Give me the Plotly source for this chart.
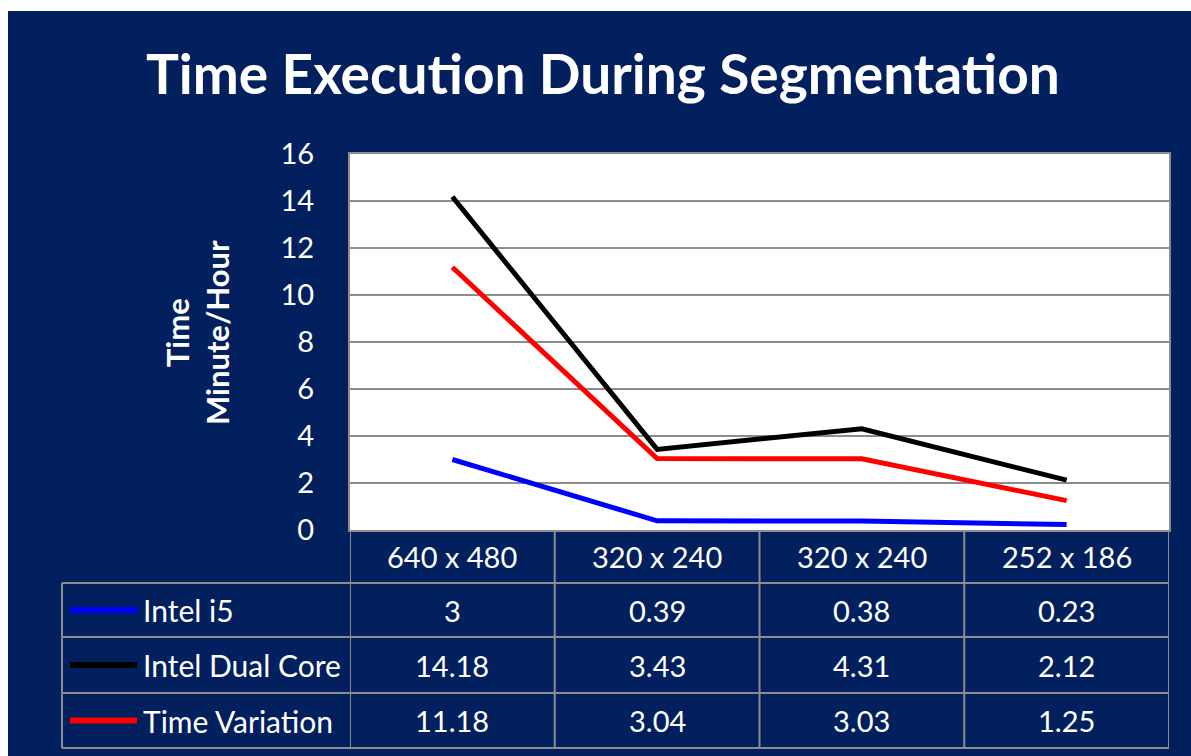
import plotly.graph_objects as go

# ---------------- data ----------------
categories = ["640 x 480", "320 x 240", "320 x 240", "252 x 186"]
series_names = ["Intel i5", "Intel Dual Core", "Time Variation"]
intel_i5 = [3, 0.39, 0.38, 0.23]
intel_dual_core = [14.18, 3.43, 4.31, 2.12]
time_variation = [11.18, 3.04, 3.03, 1.25]
y_ticks = [0, 2, 4, 6, 8, 10, 12, 14, 16]

series_values = [intel_i5, intel_dual_core, time_variation]
series_colors = ["#0000ff", "#000000", "#ff0000"]

# ---------------- layout geometry ----------------
W, H = 1191, 756
L, R, T, B = 350, 22, 154, 226
PW = W - L - R
PH = H - T - B
NAVY = "#021f5e"
GRID = "#8c8c8c"
FONT = "Lato"


def pxx(xpix):
    return (xpix - L) / PW


def pxy(ypix):
    return (H - B - ypix) / PH


x_idx = list(range(len(categories)))

fig = go.Figure()
for name, vals, col in zip(series_names, series_values, series_colors):
    fig.add_trace(go.Scatter(x=x_idx, y=vals, mode="lines", name=name,
                             line=dict(color=col, width=5), showlegend=False))

shapes = []
annotations = []

# white outer strips (top and left)
shapes.append(dict(type="rect", xref="paper", yref="paper", x0=pxx(0), x1=pxx(W),
                   y0=pxy(0), y1=pxy(11), fillcolor="white", line=dict(width=0), layer="below"))
shapes.append(dict(type="rect", xref="paper", yref="paper", x0=pxx(0), x1=pxx(8),
                   y0=pxy(0), y1=pxy(H), fillcolor="white", line=dict(width=0), layer="below"))

# table geometry (pixels)
row_lines = [583, 637, 693, 748]
table_left = 62
n = len(categories)

# horizontal table lines
for yl in row_lines:
    shapes.append(dict(type="line", xref="paper", yref="paper", x0=pxx(table_left), x1=1,
                       y0=pxy(yl), y1=pxy(yl), line=dict(color=GRID, width=2)))
# vertical lines at category boundaries
for k in range(n + 1):
    shapes.append(dict(type="line", xref="x", yref="paper", x0=k - 0.5, x1=k - 0.5,
                       y0=0, y1=pxy(row_lines[-1]), line=dict(color=GRID, width=2)))
# left table edge
shapes.append(dict(type="line", xref="paper", yref="paper", x0=pxx(table_left), x1=pxx(table_left),
                   y0=pxy(row_lines[0]), y1=pxy(row_lines[-1]), line=dict(color=GRID, width=2)))

# category header labels
for i, c in enumerate(categories):
    annotations.append(dict(text=c, xref="x", yref="paper", x=i, y=pxy((530 + row_lines[0]) / 2),
                            showarrow=False, xanchor="center", yanchor="middle",
                            font=dict(family=FONT, size=29, color="white")))

# rows: legend key + name + values
for r, (name, vals, col) in enumerate(zip(series_names, series_values, series_colors)):
    yc = (row_lines[r] + row_lines[r + 1]) / 2
    shapes.append(dict(type="line", xref="paper", yref="paper", x0=pxx(70), x1=pxx(137),
                       y0=pxy(yc), y1=pxy(yc), line=dict(color=col, width=6)))
    annotations.append(dict(text=name, xref="paper", yref="paper", x=pxx(141), y=pxy(yc),
                            showarrow=False, xanchor="left", yanchor="middle",
                            font=dict(family=FONT, size=30, color="white")))
    for i, v in enumerate(vals):
        annotations.append(dict(text=f"{v:g}", xref="x", yref="paper", x=i, y=pxy(yc),
                                showarrow=False, xanchor="center", yanchor="middle",
                                font=dict(family=FONT, size=29, color="white")))

# title
annotations.append(dict(text="<b>Time Execution During Segmentation</b>", xref="paper", yref="paper",
                        x=pxx(603), y=pxy(73), showarrow=False, xanchor="center", yanchor="middle",
                        font=dict(family=FONT, size=55, color="white")))

# y-axis title
annotations.append(dict(text="<b>Time<br>Minute/Hour</b>", xref="paper", yref="paper",
                        x=pxx(197), y=pxy(333), showarrow=False, xanchor="center", yanchor="middle",
                        textangle=-90, font=dict(family=FONT, size=31, color="white")))

fig.update_layout(
    width=W, height=H,
    margin=dict(l=L, r=R, t=T, b=B, pad=0),
    paper_bgcolor=NAVY, plot_bgcolor="white",
    shapes=shapes, annotations=annotations,
    showlegend=False,
    xaxis=dict(range=[-0.5, n - 0.5], showticklabels=False, showgrid=False, zeroline=False,
               showline=True, linecolor=GRID, linewidth=2, mirror=True, fixedrange=True),
    yaxis=dict(range=[0, 16], tickvals=y_ticks, showgrid=True, gridcolor=GRID, gridwidth=2,
               zeroline=False, showline=True, linecolor=GRID, linewidth=2, mirror=True,
               ticklabelstandoff=28, tickfont=dict(family=FONT, size=29, color="white")),
)

fig.write_html("out.html")
